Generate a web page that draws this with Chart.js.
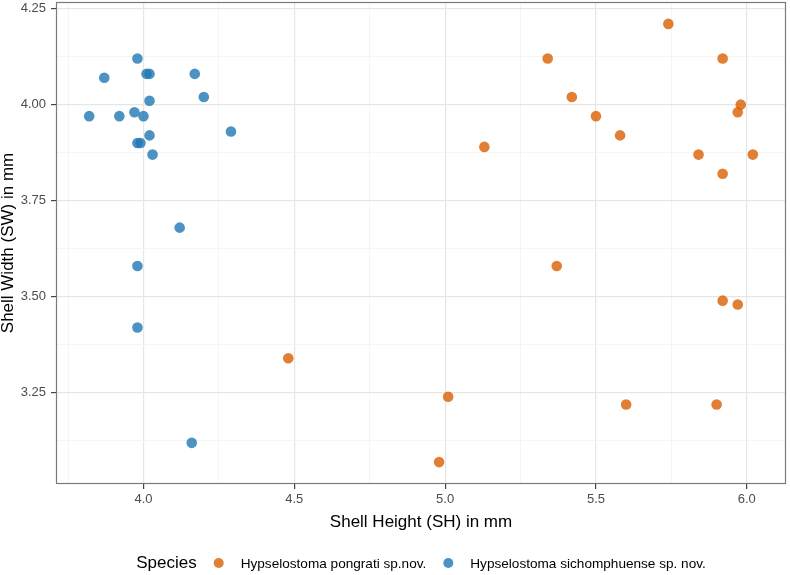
<!DOCTYPE html>
<html>
<head>
<meta charset="utf-8">
<script src="https://cdn.jsdelivr.net/npm/chart.js@4"></script>
<style>
  html, body { margin: 0; padding: 0; background: #fff; }
  #wrap { width: 790px; height: 575px; }
</style>
</head>
<body>
<div id="wrap"><canvas id="shellChart" width="790" height="575"></canvas></div>
<script>
// Shell Height (SH) / Shell Width (SW), in mm
const speciesNames = ['Hypselostoma pongrati sp.nov.', 'Hypselostoma sichomphuense sp. nov.'];

const pongratiSH = [4.48, 5.13, 5.34, 5.42, 5.50, 5.58, 5.74, 5.92, 5.84, 5.92, 5.98, 5.97, 6.02, 5.37, 5.92, 5.97, 5.01, 5.60, 5.90, 4.98];
const pongratiSW = [3.34, 3.89, 4.12, 4.02, 3.97, 3.92, 4.21, 4.12, 3.87, 3.82, 4.00, 3.98, 3.87, 3.58, 3.49, 3.48, 3.24, 3.22, 3.22, 3.07];

const sichomSH = [3.98, 3.87, 4.01, 4.02, 4.17, 4.20, 4.02, 3.97, 3.82, 3.92, 4.00, 4.29, 4.02, 3.98, 3.99, 4.03, 4.12, 3.98, 3.98, 4.16];
const sichomSW = [4.12, 4.07, 4.08, 4.08, 4.08, 4.02, 4.01, 3.98, 3.97, 3.97, 3.97, 3.93, 3.92, 3.90, 3.90, 3.87, 3.68, 3.58, 3.42, 3.12];

const xMajorTicks = [4.0, 4.5, 5.0, 5.5, 6.0];
const xMinorTicks = [3.75, 4.25, 4.75, 5.25, 5.75];
const yMajorTicks = [3.25, 3.50, 3.75, 4.00, 4.25];
const yMinorTicks = [3.125, 3.375, 3.625, 3.875, 4.125];

const FONT = "'Liberation Sans', Arial, Helvetica, sans-serif";
const colors = ['rgba(217, 95, 2, 0.8)', 'rgba(31, 120, 180, 0.8)'];

const toPoints = (xs, ys) => xs.map((x, i) => ({ x: x, y: ys[i] }));

const isMajor = (list, v) => list.some(m => Math.abs(m - v) < 1e-6);

const setTicks = (majors, minors) => (scale) => {
  scale.ticks = majors.concat(minors).sort((a, b) => a - b).map(v => ({ value: v }));
};

// panel border drawn over the points, like ggplot theme_bw
const panelBorder = {
  id: 'panelBorder',
  afterDatasetsDraw(chart) {
    const { ctx, chartArea: a } = chart;
    ctx.save();
    ctx.strokeStyle = '#7a7a7a';
    ctx.lineWidth = 1.2;
    ctx.strokeRect(a.left + 0.5, a.top + 0.5, a.right - a.left - 1, a.bottom - a.top - 1);
    ctx.restore();
  }
};

// legend in one row: "Species" then the two keys
const inlineLegend = {
  id: 'inlineLegend',
  afterDraw(chart) {
    const { ctx, chartArea: a } = chart;
    const y = 563;
    ctx.save();
    ctx.textBaseline = 'middle';
    ctx.textAlign = 'left';
    ctx.font = '17px ' + FONT;
    const wTitle = ctx.measureText('Species').width;
    ctx.font = '13.6px ' + FONT;
    const widths = chart.data.datasets.map(d => ctx.measureText(d.label).width);
    const total = wTitle + widths.reduce((s, w) => s + w + 44, 0);
    let x = (a.left + a.right) / 2 - total / 2;

    ctx.fillStyle = '#000';
    ctx.font = '17px ' + FONT;
    ctx.fillText('Species', x, y);
    x += wTitle;

    chart.data.datasets.forEach((d, i) => {
      x += 22;
      ctx.beginPath();
      ctx.fillStyle = d.backgroundColor;
      ctx.arc(x, y, 5, 0, Math.PI * 2);
      ctx.fill();
      x += 22;
      ctx.fillStyle = '#000';
      ctx.font = '13.6px ' + FONT;
      ctx.fillText(d.label, x, y + 1);
      x += widths[i];
    });
    ctx.restore();
  }
};

new Chart(document.getElementById('shellChart'), {
  type: 'scatter',
  data: {
    datasets: [
      {
        label: speciesNames[0],
        data: toPoints(pongratiSH, pongratiSW),
        backgroundColor: colors[0],
        borderWidth: 0,
        pointRadius: 5.3
      },
      {
        label: speciesNames[1],
        data: toPoints(sichomSH, sichomSW),
        backgroundColor: colors[1],
        borderWidth: 0,
        pointRadius: 5.3
      }
    ]
  },
  options: {
    responsive: false,
    animation: false,
    layout: { autoPadding: false, padding: { top: 2, right: 4, bottom: 44, left: 0 } },
    plugins: {
      legend: { display: false },
      tooltip: { enabled: false }
    },
    scales: {
      x: {
        type: 'linear',
        min: 3.71,
        max: 6.13,
        afterBuildTicks: setTicks(xMajorTicks, xMinorTicks),
        afterFit: (scale) => {
          scale.height = 47;
          scale.paddingLeft = 0;
          scale.paddingRight = 0;
        },
        border: { display: false },
        grid: {
          color: (c) => isMajor(xMajorTicks, c.tick.value) ? '#e6e6e6' : '#f2f2f2',
          lineWidth: (c) => isMajor(xMajorTicks, c.tick.value) ? 1.2 : 0.8,
          tickColor: (c) => isMajor(xMajorTicks, c.tick.value) ? '#444' : 'rgba(0,0,0,0)',
          tickLength: 5,
          tickWidth: 1.2
        },
        ticks: {
          autoSkip: false,
          maxRotation: 0,
          padding: 3,
          color: '#4d4d4d',
          font: { family: FONT, size: 13 },
          callback: (v) => isMajor(xMajorTicks, v) ? v.toFixed(1) : ''
        },
        title: {
          display: true,
          text: 'Shell Height (SH) in mm',
          color: '#000',
          padding: { top: 0, bottom: 0 },
          font: { family: FONT, size: 17, lineHeight: 1 }
        }
      },
      y: {
        type: 'linear',
        min: 3.013,
        max: 4.267,
        afterBuildTicks: setTicks(yMajorTicks, yMinorTicks),
        afterFit: (scale) => {
          scale.width = 56;
          scale.paddingTop = 0;
          scale.paddingBottom = 0;
        },
        border: { display: false },
        grid: {
          color: (c) => isMajor(yMajorTicks, c.tick.value) ? '#e6e6e6' : '#f2f2f2',
          lineWidth: (c) => isMajor(yMajorTicks, c.tick.value) ? 1.2 : 0.8,
          tickColor: (c) => isMajor(yMajorTicks, c.tick.value) ? '#444' : 'rgba(0,0,0,0)',
          tickLength: 5,
          tickWidth: 1.2
        },
        ticks: {
          autoSkip: false,
          padding: 5,
          color: '#4d4d4d',
          font: { family: FONT, size: 13 },
          callback: (v) => isMajor(yMajorTicks, v) ? v.toFixed(2) : ''
        },
        title: {
          display: true,
          text: 'Shell Width (SW) in mm',
          color: '#000',
          padding: { top: 0, bottom: 0 },
          font: { family: FONT, size: 17, lineHeight: 1 }
        }
      }
    }
  },
  plugins: [panelBorder, inlineLegend]
});
</script>
</body>
</html>
